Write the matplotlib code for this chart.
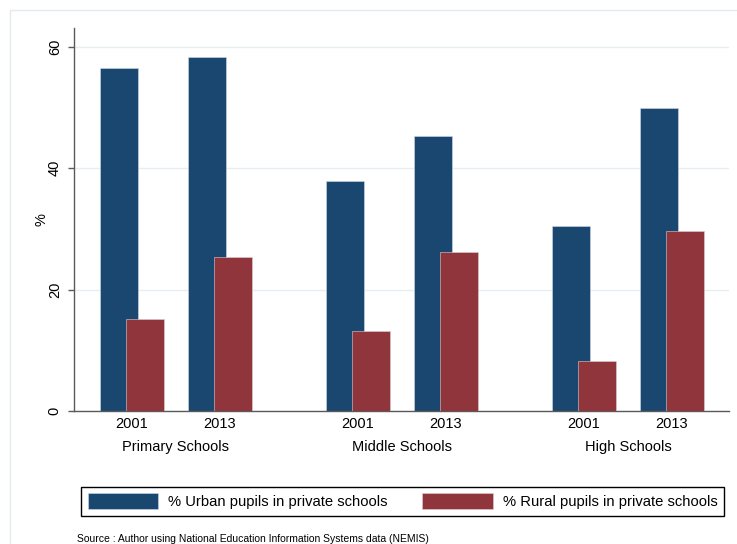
import matplotlib
matplotlib.use("Agg")
import matplotlib.pyplot as plt
from matplotlib.patches import Patch, Rectangle

# data
school_levels = ["Primary Schools", "Middle Schools", "High Schools"]
years = ["2001", "2013"]
urban_pct = [56.5, 58.4, 37.9, 45.3, 30.5, 49.9]
rural_pct = [15.2, 25.4, 13.2, 26.2, 8.2, 29.7]
legend_labels = ["% Urban pupils in private schools", "% Rural pupils in private schools"]
source_note = "Source : Author using National Education Information Systems data (NEMIS)"

URBAN = "#1a476f"
RURAL = "#90353b"
GRID = "#e6eef2"
SPINE = "#5a5a5a"

plt.rcParams["font.family"] = ["Liberation Sans", "DejaVu Sans"]

# bar positions: two years per group, wider gap between groups
group_step = 2.568
centers = []
for g in range(len(school_levels)):
    for y in range(len(years)):
        centers.append(g * group_step + y)
offset = 0.148
width = 0.432

fig = plt.figure(figsize=(7.37, 5.44), dpi=100)
ax = fig.add_axes([74 / 737, 1 - 411 / 544, (729 - 74) / 737, (411 - 28) / 544])

ax.bar([c - offset for c in centers], urban_pct, width=width, color=URBAN,
       edgecolor="#d0dbe3", linewidth=0.4, zorder=2)
ax.bar([c + offset for c in centers], rural_pct, width=width, color=RURAL,
       edgecolor="#e0cfd1", linewidth=0.4, zorder=3)

ax.set_xlim(-0.659, 6.784)
ax.set_ylim(0, 63.1)
ax.set_yticks([0, 20, 40, 60])
ax.set_yticklabels(["0", "20", "40", "60"], rotation=90, va="center", fontsize=10.5)
ax.yaxis.grid(True, color=GRID, linewidth=1.0, zorder=0)
ax.set_axisbelow(True)
ax.tick_params(axis="y", length=4.3, width=1, color=SPINE, pad=4.5)
ax.set_ylabel("%", fontsize=10.5, labelpad=-0.5)

ax.set_xticks(centers)
ax.set_xticklabels(years * len(school_levels), fontsize=10.5)
ax.tick_params(axis="x", length=0, pad=4)

for g, name in enumerate(school_levels):
    ax.text(g * group_step + 0.5, -0.095, name, transform=ax.get_xaxis_transform(),
            ha="center", va="center", fontsize=10.5)

for side in ["top", "right"]:
    ax.spines[side].set_visible(False)
for side in ["left", "bottom"]:
    ax.spines[side].set_color(SPINE)
    ax.spines[side].set_linewidth(1.0)

handles = [Patch(facecolor=URBAN, edgecolor="#d0dbe3", linewidth=0.4),
           Patch(facecolor=RURAL, edgecolor="#e0cfd1", linewidth=0.4)]
leg = fig.legend(handles, legend_labels, ncol=2, loc="lower left",
                 bbox_to_anchor=(81 / 737, 1 - 516 / 544, (724 - 81) / 737, 35 / 544),
                 mode="expand", fancybox=False, edgecolor="black", framealpha=1,
                 fontsize=10.6, handlelength=4.8, handleheight=1.3,
                 handletextpad=0.65, borderpad=0.45, borderaxespad=0, columnspacing=2.0)
leg.get_frame().set_linewidth(1.0)

fig.text(77 / 737, 1 - 539 / 544, source_note, fontsize=7.5, ha="left", va="center")

# light outer frame of the graph region
fig.patches.append(Rectangle((10 / 737, -0.1), 1.2, 1.1 - 10 / 544, transform=fig.transFigure,
                             fill=False, edgecolor="#e3eaee", linewidth=1.0))

fig.savefig("out.png", dpi=100)
